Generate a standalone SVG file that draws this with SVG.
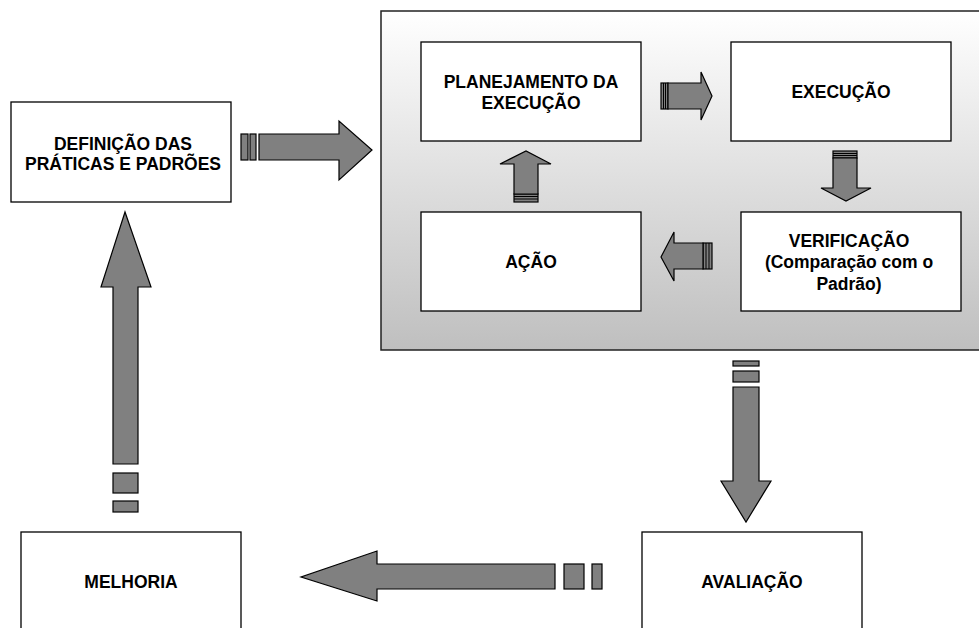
<svg xmlns="http://www.w3.org/2000/svg" width="979" height="628" viewBox="0 0 979 628">
  <defs>
    <linearGradient id="panelFill" x1="0" y1="0" x2="0" y2="1">
      <stop offset="0" stop-color="#ffffff"/>
      <stop offset="1" stop-color="#bfbfbf"/>
    </linearGradient>
    <style>
      .box { fill: #ffffff; stroke: #000000; stroke-width: 1.3; }
      .arrow { fill: #808080; stroke: #000000; stroke-width: 1.2; stroke-linejoin: miter; }
      .stripe { fill: none; stroke: #000000; stroke-width: 1; }
      .label { font-family: "Liberation Sans", Arial, sans-serif; font-weight: bold; font-size: 17.5px; fill: #000000; text-anchor: middle; }
    </style>
  </defs>

  <rect width="979" height="628" fill="#ffffff"/>

  <!-- cycle panel -->
  <g id="panel">
    <rect x="381" y="11" width="620" height="339" fill="url(#panelFill)" stroke="#222222" stroke-width="1.5"/>
  </g>

  <g id="definicao">
    <rect class="box" x="11" y="102" width="220" height="100"/>
    <text class="label" x="123" y="150">DEFINIÇÃO DAS</text>
    <text class="label" x="123" y="170">PRÁTICAS E PADRÕES</text>
  </g>

  <g id="planejamento">
    <rect class="box" x="421" y="42" width="220" height="99"/>
    <text class="label" x="531" y="88">PLANEJAMENTO DA</text>
    <text class="label" x="531" y="109">EXECUÇÃO</text>
  </g>

  <g id="execucao">
    <rect class="box" x="731" y="42" width="220" height="99"/>
    <text class="label" x="841" y="98">EXECUÇÃO</text>
  </g>

  <g id="acao">
    <rect class="box" x="421" y="212" width="220" height="99"/>
    <text class="label" x="531" y="268">AÇÃO</text>
  </g>

  <g id="verificacao">
    <rect class="box" x="741" y="212" width="220" height="99"/>
    <text class="label" x="849" y="247">VERIFICAÇÃO</text>
    <text class="label" x="849" y="268">(Comparação com o</text>
    <text class="label" x="849" y="290">Padrão)</text>
  </g>

  <g id="melhoria">
    <rect class="box" x="21" y="532" width="220" height="110"/>
    <text class="label" x="131" y="588">MELHORIA</text>
  </g>

  <g id="avaliacao">
    <rect class="box" x="642" y="532" width="220" height="110"/>
    <text class="label" x="752" y="588">AVALIAÇÃO</text>
  </g>

  <g id="connectors">
    <!-- definição -> panel -->
    <rect class="arrow" x="241" y="134" width="7" height="26"/>
    <rect class="arrow" x="250" y="134" width="6" height="26"/>
    <polygon class="arrow" points="259,134 339,134 339,121 372,150 339,180 339,160 259,160"/>

    <!-- planejamento -> execução -->
    <rect class="arrow" x="661" y="83" width="7" height="26"/>
    <line class="stripe" x1="663.5" y1="83" x2="663.5" y2="109"/>
    <line class="stripe" x1="665.5" y1="83" x2="665.5" y2="109"/>
    <polygon class="arrow" points="668,83 701,83 701,72 712,96 701,120 701,109 668,109"/>

    <!-- execução -> verificação -->
    <rect class="arrow" x="833" y="151" width="24" height="7"/>
    <line class="stripe" x1="833" y1="153.5" x2="857" y2="153.5"/>
    <line class="stripe" x1="833" y1="155.5" x2="857" y2="155.5"/>
    <polygon class="arrow" points="833,158 857,158 857,188 871,188 846,201 821,188 833,188"/>

    <!-- verificação -> ação -->
    <rect class="arrow" x="703" y="243" width="9" height="26"/>
    <line class="stripe" x1="706" y1="243" x2="706" y2="269"/>
    <line class="stripe" x1="709" y1="243" x2="709" y2="269"/>
    <polygon class="arrow" points="703,243 674,243 674,232 661,257 674,281 674,269 703,269"/>

    <!-- ação -> planejamento -->
    <rect class="arrow" x="514" y="194" width="24" height="8"/>
    <line class="stripe" x1="514" y1="196.5" x2="538" y2="196.5"/>
    <line class="stripe" x1="514" y1="199" x2="538" y2="199"/>
    <polygon class="arrow" points="514,194 514,164 500,164 526,151 551,164 538,164 538,194"/>

    <!-- panel -> avaliação -->
    <rect class="arrow" x="733" y="361" width="26" height="5"/>
    <rect class="arrow" x="733" y="371" width="26" height="11"/>
    <polygon class="arrow" points="733,387 759,387 759,481 771,481 746,522 721,481 733,481"/>

    <!-- avaliação -> melhoria -->
    <rect class="arrow" x="592" y="564" width="10" height="25"/>
    <rect class="arrow" x="564" y="564" width="20" height="25"/>
    <polygon class="arrow" points="555,564 377,564 377,551 301,577 377,601 377,589 555,589"/>

    <!-- melhoria -> definição -->
    <rect class="arrow" x="113" y="501" width="25" height="11"/>
    <rect class="arrow" x="113" y="473" width="25" height="20"/>
    <polygon class="arrow" points="113,464 113,287 101,287 125,212 151,287 138,287 138,464"/>
  </g>
</svg>
